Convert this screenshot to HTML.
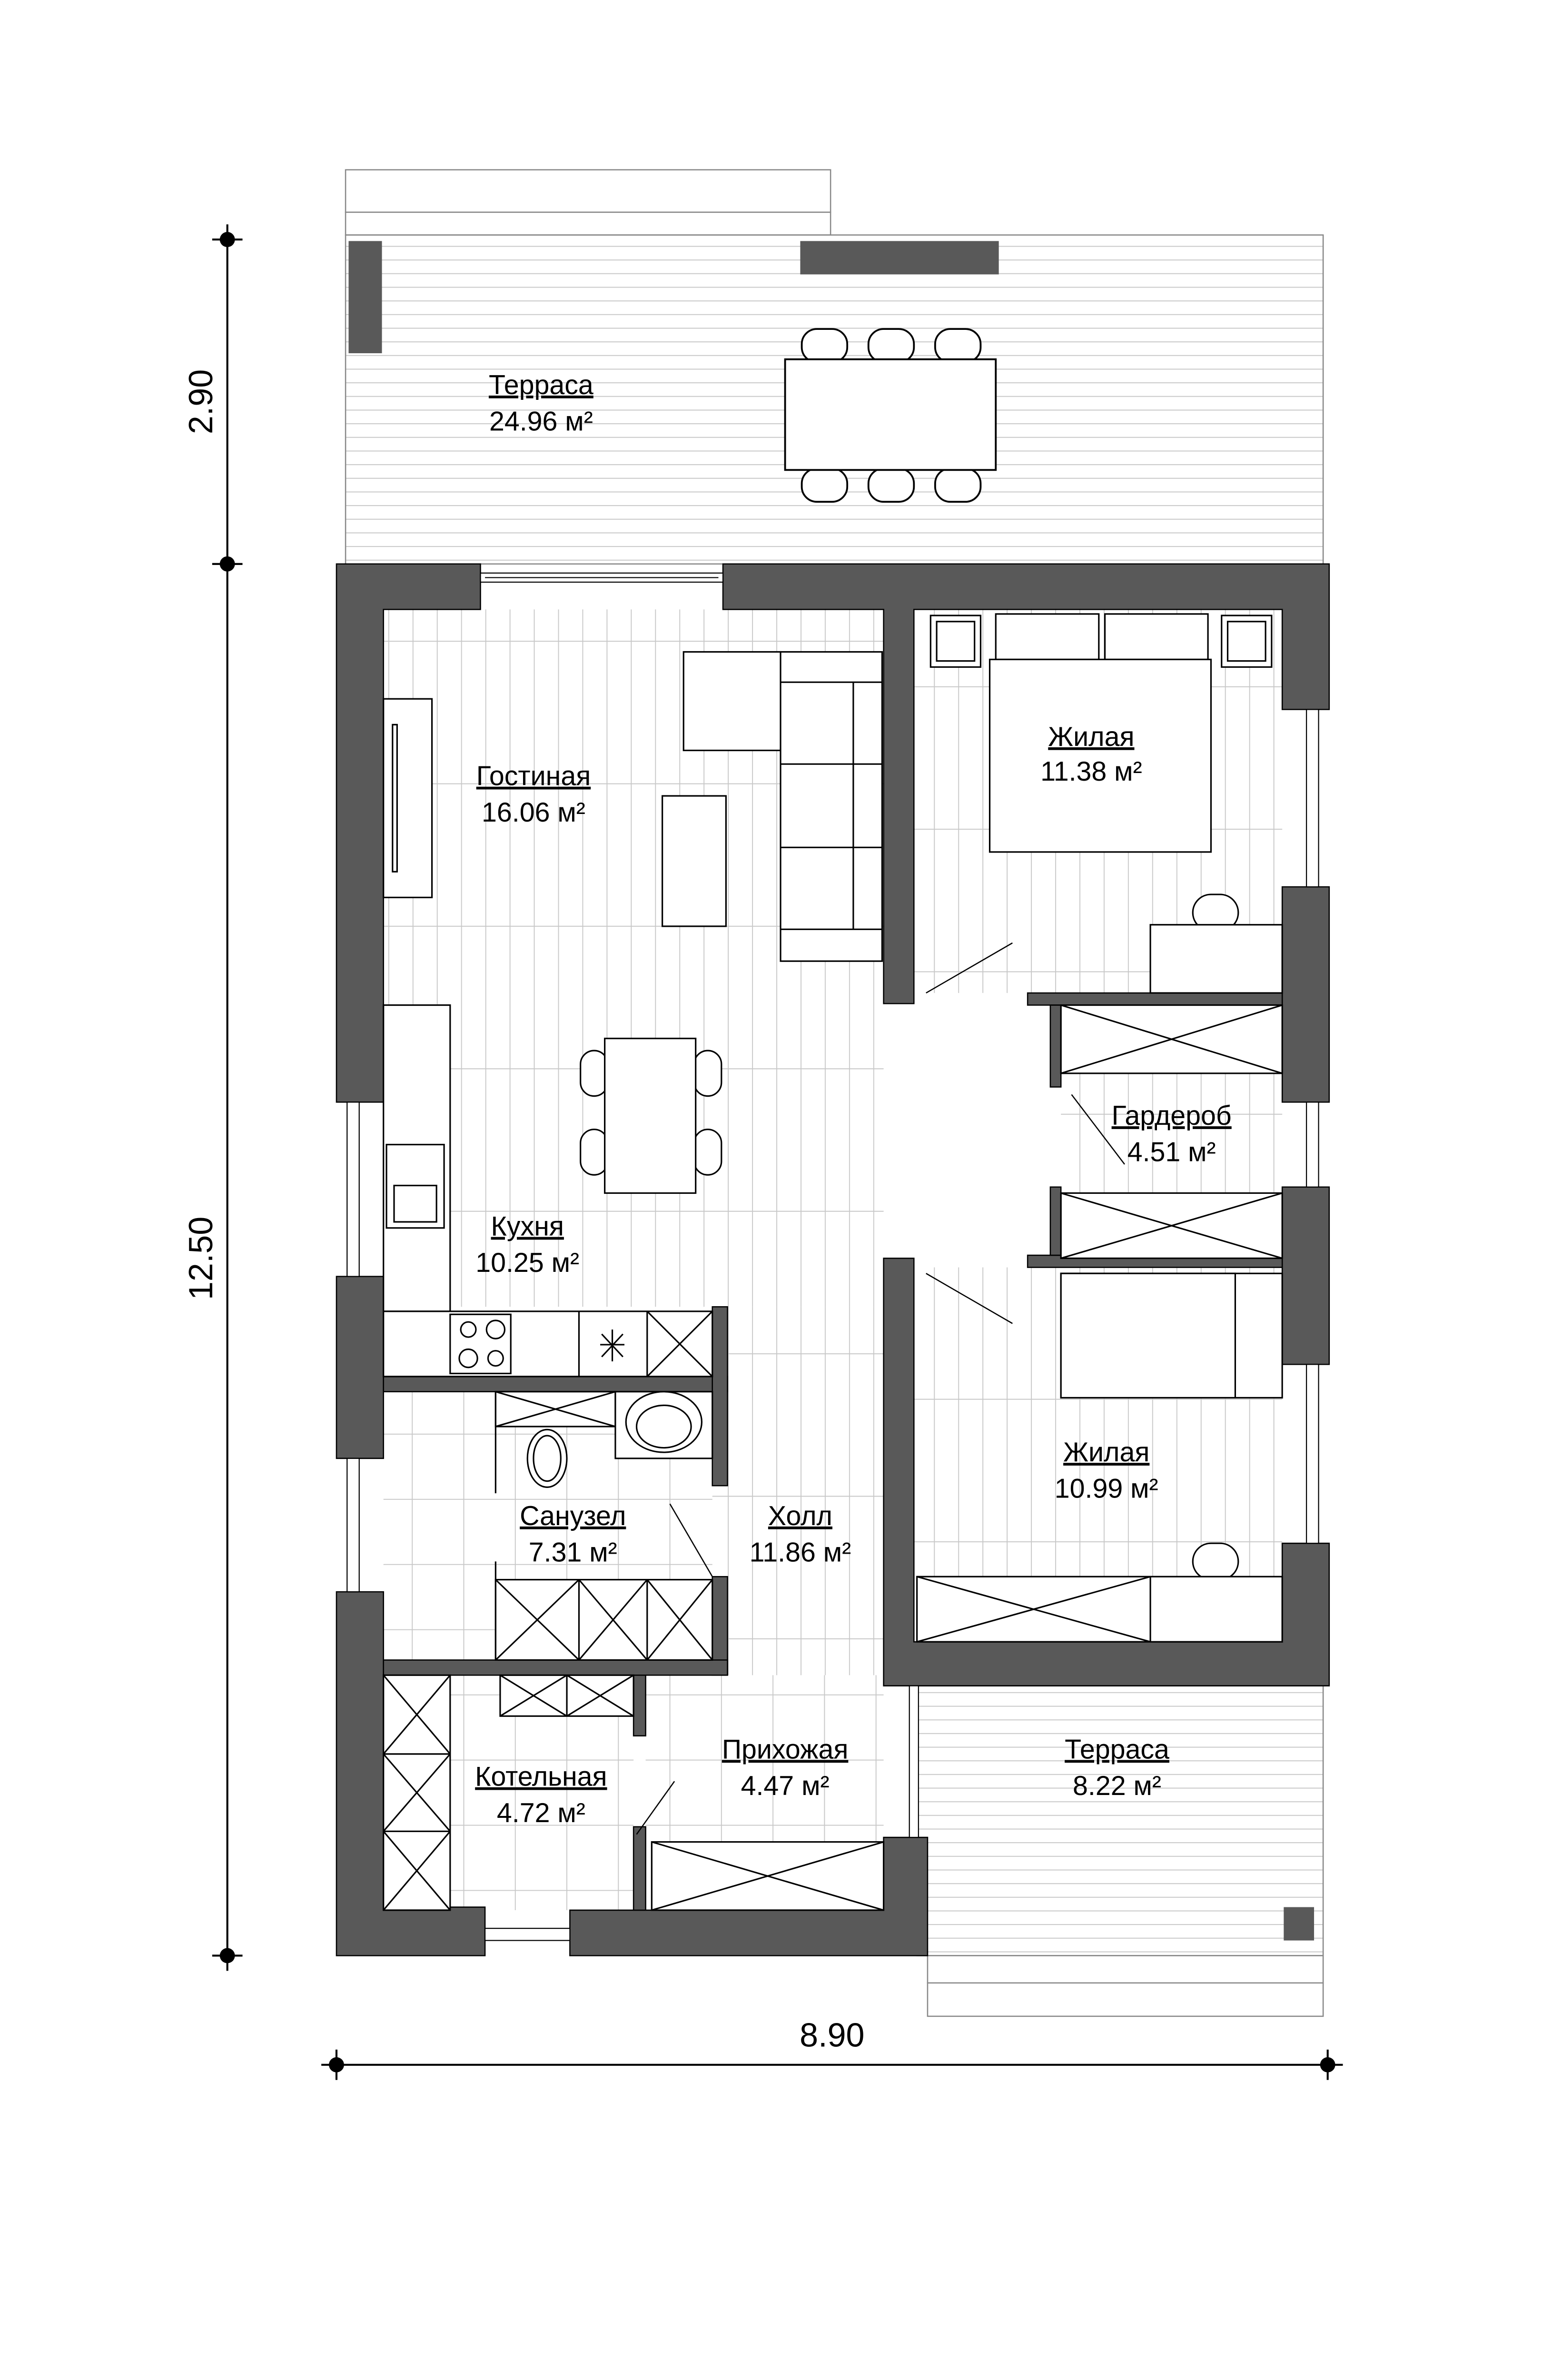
<!DOCTYPE html>
<html><head><meta charset="utf-8"><style>html,body{margin:0;padding:0;background:#fff;width:3261px;height:5048px;overflow:hidden}svg{display:block}</style></head><body>
<svg width="3261" height="5048" viewBox="0 0 1024 1585" preserveAspectRatio="none" xmlns="http://www.w3.org/2000/svg" font-family="Liberation Sans, DejaVu Sans, sans-serif">
<defs>
<pattern id="hb" width="20" height="9" patternUnits="userSpaceOnUse"><line x1="0" y1="0.5" x2="20" y2="0.5" stroke="#c8c8c8" stroke-width="0.6"/></pattern>
<pattern id="vb" width="16" height="94" patternUnits="userSpaceOnUse"><line x1="0.5" y1="0" x2="0.5" y2="94" stroke="#c8c8c8" stroke-width="0.6"/><line x1="0" y1="47" x2="16" y2="47" stroke="#c8c8c8" stroke-width="0.6"/></pattern>
<pattern id="vb2" width="16" height="94" patternUnits="userSpaceOnUse" patternTransform="translate(8,30)"><line x1="0.5" y1="0" x2="0.5" y2="94" stroke="#c8c8c8" stroke-width="0.6"/><line x1="0" y1="47" x2="16" y2="47" stroke="#c8c8c8" stroke-width="0.6"/></pattern>
<pattern id="tile" width="34" height="43" patternUnits="userSpaceOnUse"><rect width="34" height="43" fill="none" stroke="#c8c8c8" stroke-width="0.6"/></pattern>
</defs>
<rect width="1024" height="1585" fill="#fff"/>
<rect x="228" y="112" width="320" height="28" fill="#fff" stroke="#888" stroke-width="0.8"/>
<rect x="228" y="140" width="320" height="15" fill="#fff" stroke="#888" stroke-width="0.8"/>
<rect x="228" y="155" width="645" height="217" fill="url(#hb)" stroke="#888" stroke-width="0.8"/>
<rect x="230" y="159" width="22" height="74" fill="#595959"/>
<rect x="528" y="159" width="131" height="22" fill="#595959"/>
<g fill="#fff" stroke="#000" stroke-width="1.2">
<rect x="529" y="217" width="30" height="22" rx="10"/><rect x="573" y="217" width="30" height="22" rx="10"/><rect x="617" y="217" width="30" height="22" rx="10"/>
<rect x="529" y="309" width="30" height="22" rx="10"/><rect x="573" y="309" width="30" height="22" rx="10"/><rect x="617" y="309" width="30" height="22" rx="10"/>
<rect x="518" y="237" width="139" height="73"/>
</g>
<rect x="605" y="1112" width="268" height="178" fill="url(#hb)" stroke="#888" stroke-width="0.8"/>
<rect x="612" y="1290" width="261" height="18" fill="#fff" stroke="#888" stroke-width="0.8"/>
<rect x="612" y="1308" width="261" height="22" fill="#fff" stroke="#888" stroke-width="0.8"/>
<rect x="847" y="1258" width="20" height="22" fill="#595959"/>
<rect x="253" y="402" width="330" height="460" fill="url(#vb)"/>
<rect x="470" y="862" width="113" height="243" fill="url(#vb)"/>
<rect x="603" y="402" width="243" height="253" fill="url(#vb2)"/>
<rect x="700" y="663" width="146" height="165" fill="url(#vb2)"/>
<rect x="603" y="836" width="243" height="247" fill="url(#vb2)"/>
<rect x="253" y="918" width="217" height="177" fill="url(#tile)"/>
<rect x="253" y="1105" width="165" height="155" fill="url(#tile)"/>
<rect x="426" y="1105" width="157" height="110" fill="url(#tile)"/>
<g fill="#595959" stroke="#000" stroke-width="0.8">
<path d="M222 372H317V402H253V727H222Z"/>
<path d="M477 372H877V468H846V402H603V662H583V402H477Z"/>
<path d="M846 585H877V727H846Z"/>
<path d="M846 783H877V900H846Z"/>
<path d="M846 1018H877V1112H583V830H603V1083H846Z"/>
<path d="M222 842H253V962H222Z"/>
<path d="M222 1050H253V1258H320V1290H222Z"/>
<path d="M376 1260H583V1212H612V1290H376Z"/>
<rect x="253" y="908" width="227" height="10"/>
<rect x="470" y="862" width="10" height="118"/>
<rect x="470" y="1040" width="10" height="65"/>
<rect x="253" y="1095" width="227" height="10"/>
<rect x="418" y="1105" width="8" height="40"/>
<rect x="418" y="1205" width="8" height="55"/>
<rect x="678" y="655" width="168" height="8"/>
<rect x="678" y="828" width="168" height="8"/>
<rect x="693" y="663" width="7" height="54"/>
<rect x="693" y="783" width="7" height="45"/>
</g>
<g fill="#fff" stroke="#000" stroke-width="0.7">
<rect x="317" y="378" width="160" height="6"/><line x1="320" y1="381" x2="474" y2="381"/>
<rect x="862" y="468" width="8" height="117"/>
<rect x="862" y="727" width="8" height="56"/>
<rect x="862" y="900" width="8" height="118"/>
<rect x="229" y="727" width="8" height="115"/>
<rect x="229" y="962" width="8" height="88"/>
<rect x="320" y="1272" width="56" height="8"/>
<rect x="600" y="1112" width="6" height="100"/>
</g>
<g fill="#fff" stroke="#000" stroke-width="1">
<rect x="253" y="461" width="32" height="131"/><rect x="259" y="478" width="3" height="97"/>
<rect x="451" y="430" width="64" height="65"/>
<rect x="515" y="430" width="67" height="204"/>
<line x1="515" y1="450" x2="582" y2="450"/><line x1="515" y1="504" x2="582" y2="504"/><line x1="515" y1="559" x2="582" y2="559"/><line x1="515" y1="613" x2="582" y2="613"/><line x1="563" y1="450" x2="563" y2="613"/>
<rect x="437" y="525" width="42" height="86"/>
<rect x="383" y="693" width="18" height="30" rx="9"/><rect x="383" y="745" width="18" height="30" rx="9"/>
<rect x="458" y="693" width="18" height="30" rx="9"/><rect x="458" y="745" width="18" height="30" rx="9"/>
<rect x="399" y="685" width="60" height="102"/>
<rect x="253" y="663" width="44" height="202"/>
<rect x="255" y="755" width="38" height="55"/><rect x="260" y="782" width="28" height="24"/>
<rect x="253" y="865" width="217" height="43"/>
<rect x="297" y="867" width="40" height="39"/>
<line x1="382" y1="865" x2="382" y2="908"/><line x1="427" y1="865" x2="427" y2="908"/>
<line x1="427" y1="865" x2="470" y2="908"/><line x1="470" y1="865" x2="427" y2="908"/>
<circle cx="309" cy="877" r="5"/><circle cx="327" cy="877" r="6"/><circle cx="309" cy="896" r="6"/><circle cx="327" cy="896" r="5"/>
<line x1="396" y1="887" x2="412" y2="887"/><line x1="404" y1="877" x2="404" y2="898"/><line x1="397" y1="880" x2="411" y2="895"/><line x1="411" y1="880" x2="397" y2="895"/>
<rect x="327" y="918" width="79" height="23"/><line x1="327" y1="918" x2="406" y2="941"/><line x1="406" y1="918" x2="327" y2="941"/>
<ellipse cx="361" cy="962" rx="13" ry="19"/><ellipse cx="361" cy="962" rx="9" ry="15"/>
<rect x="406" y="918" width="64" height="44"/>
<ellipse cx="438" cy="938" rx="25" ry="20"/><ellipse cx="438" cy="941" rx="18" ry="14"/>
<rect x="327" y="1042" width="143" height="53"/>
<line x1="382" y1="1042" x2="382" y2="1095"/><line x1="427" y1="1042" x2="427" y2="1095"/>
<path d="M327 1042L382 1095M382 1042L327 1095M382 1042L427 1095M427 1042L382 1095M427 1042L470 1095M470 1042L427 1095"/>
<line x1="327" y1="918" x2="327" y2="985"/><line x1="327" y1="1030" x2="327" y2="1095"/>
<line x1="442" y1="992" x2="470" y2="1040" stroke-width="0.8"/>
<rect x="253" y="1105" width="44" height="155"/>
<path d="M253 1105L297 1157M297 1105L253 1157M253 1157L297 1208M297 1157L253 1208M253 1208L297 1260M297 1208L253 1260"/>
<line x1="253" y1="1157" x2="297" y2="1157"/><line x1="253" y1="1208" x2="297" y2="1208"/>
<rect x="330" y="1105" width="88" height="27"/><line x1="374" y1="1105" x2="374" y2="1132"/>
<path d="M330 1105L374 1132M374 1105L330 1132M374 1105L418 1132M418 1105L374 1132"/>
<line x1="420" y1="1210" x2="445" y2="1175" stroke-width="0.8"/>
<rect x="430" y="1215" width="153" height="45"/><path d="M430 1215L583 1260M583 1215L430 1260"/>
<rect x="614" y="406" width="33" height="34"/><rect x="618" y="410" width="25" height="26"/>
<rect x="806" y="406" width="33" height="34"/><rect x="810" y="410" width="25" height="26"/>
<rect x="657" y="405" width="68" height="30"/><rect x="729" y="405" width="68" height="30"/>
<rect x="653" y="435" width="146" height="127"/>
<line x1="611" y1="655" x2="668" y2="622" stroke-width="0.8"/>
<rect x="787" y="590" width="30" height="24" rx="12"/>
<rect x="759" y="610" width="87" height="45"/>
<rect x="700" y="663" width="146" height="45"/><path d="M700 663L846 708M846 663L700 708"/>
<rect x="700" y="787" width="146" height="43"/><path d="M700 787L846 830M846 787L700 830"/>
<line x1="707" y1="722" x2="742" y2="768" stroke-width="0.8"/>
<line x1="611" y1="840" x2="668" y2="873" stroke-width="0.8"/>
<rect x="700" y="840" width="146" height="82"/><rect x="700" y="840" width="115" height="82"/>
<rect x="787" y="1018" width="30" height="24" rx="12"/>
<rect x="605" y="1040" width="241" height="43"/><path d="M605 1040L759 1083M759 1040L605 1083"/><line x1="759" y1="1040" x2="759" y2="1083"/>
</g>
<g stroke="#000" stroke-width="1.3">
<line x1="150" y1="148" x2="150" y2="1300"/>
<line x1="140" y1="158" x2="160" y2="158"/><line x1="140" y1="372" x2="160" y2="372"/><line x1="140" y1="1290" x2="160" y2="1290"/>
<line x1="212" y1="1362" x2="886" y2="1362"/>
<line x1="222" y1="1352" x2="222" y2="1372"/><line x1="876" y1="1352" x2="876" y2="1372"/>
</g>
<g fill="#000"><circle cx="150" cy="158" r="5"/><circle cx="150" cy="372" r="5"/><circle cx="150" cy="1290" r="5"/><circle cx="222" cy="1362" r="5"/><circle cx="876" cy="1362" r="5"/></g>
<g font-size="22" fill="#000" text-anchor="middle">
<text transform="translate(140,265) rotate(-90)">2.90</text>
<text transform="translate(140,830) rotate(-90)">12.50</text>
<text x="549" y="1350">8.90</text>
</g>
<g font-size="18" fill="#000" text-anchor="middle" text-decoration="underline">
<text x="357" y="260">Терраса</text>
<text x="352" y="518">Гостиная</text>
<text x="720" y="492">Жилая</text>
<text x="348" y="815">Кухня</text>
<text x="773" y="742">Гардероб</text>
<text x="730" y="964">Жилая</text>
<text x="378" y="1006">Санузел</text>
<text x="528" y="1006">Холл</text>
<text x="357" y="1178">Котельная</text>
<text x="518" y="1160">Прихожая</text>
<text x="737" y="1160">Терраса</text>
</g>
<g font-size="18" fill="#000" text-anchor="middle">
<text x="357" y="284">24.96 м²</text>
<text x="352" y="542">16.06 м²</text>
<text x="720" y="515">11.38 м²</text>
<text x="348" y="839">10.25 м²</text>
<text x="773" y="766">4.51 м²</text>
<text x="730" y="988">10.99 м²</text>
<text x="378" y="1030">7.31 м²</text>
<text x="528" y="1030">11.86 м²</text>
<text x="357" y="1202">4.72 м²</text>
<text x="518" y="1184">4.47 м²</text>
<text x="737" y="1184">8.22 м²</text>
</g>
</svg>
</body></html>
